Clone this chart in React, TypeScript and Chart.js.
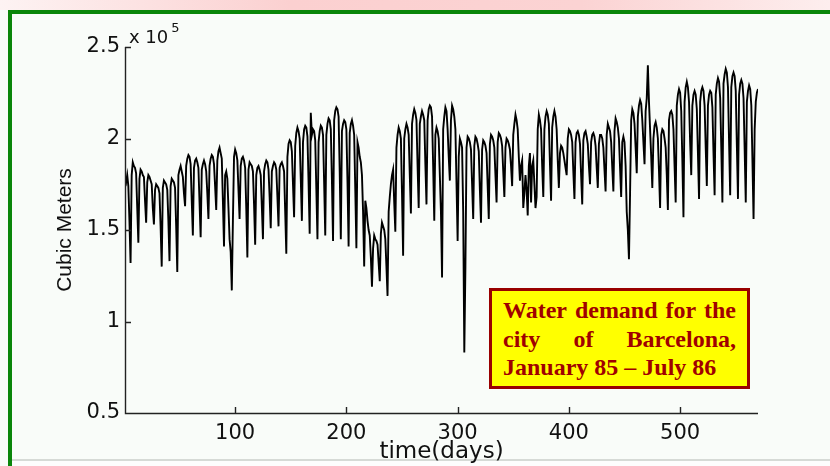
import React, { useEffect, useRef } from "react";
import { Chart, registerables } from "chart.js";

Chart.register(...registerables);

// Daily water demand (x 10^5 m3), rows are weeks Mon..Sun (first row starts Tue 1 Jan 1985)
const winter85: number[][] = [
  [1.78, 1.76, 1.8, 1.74, 1.55, 1.32],
  [1.8, 1.87, 1.85, 1.84, 1.81, 1.62, 1.43],
  [1.78, 1.83, 1.82, 1.8, 1.79, 1.66, 1.54],
  [1.76, 1.8, 1.79, 1.77, 1.75, 1.62, 1.53],
  [1.72, 1.75, 1.74, 1.73, 1.7, 1.52, 1.3],
  [1.73, 1.77, 1.76, 1.75, 1.72, 1.55, 1.33],
  [1.74, 1.78, 1.77, 1.76, 1.73, 1.52, 1.27],
  [1.8, 1.83, 1.85, 1.82, 1.79, 1.7, 1.63],
  [1.85, 1.89, 1.91, 1.9, 1.86, 1.66, 1.47],
  [1.84, 1.88, 1.89, 1.87, 1.84, 1.65, 1.46],
  [1.83, 1.86, 1.88, 1.86, 1.82, 1.7, 1.56],
  [1.85, 1.89, 1.91, 1.9, 1.86, 1.74, 1.61],
  [1.88, 1.93, 1.95, 1.92, 1.89, 1.66, 1.41],
];
const spring85: number[][] = [
  [1.8, 1.82, 1.78, 1.62, 1.45, 1.38, 1.17],
  [1.55, 1.9, 1.94, 1.92, 1.88, 1.72, 1.56],
  [1.85, 1.89, 1.9, 1.88, 1.84, 1.62, 1.35],
  [1.83, 1.87, 1.86, 1.85, 1.82, 1.64, 1.42],
  [1.8, 1.84, 1.85, 1.83, 1.8, 1.63, 1.45],
  [1.82, 1.86, 1.88, 1.87, 1.83, 1.68, 1.51],
  [1.82, 1.85, 1.87, 1.86, 1.83, 1.68, 1.52],
  [1.84, 1.86, 1.87, 1.85, 1.82, 1.6, 1.37],
  [1.9, 1.97, 1.99, 1.98, 1.93, 1.75, 1.57],
  [1.96, 2.03, 2.06, 2.04, 2.0, 1.78, 1.55],
  [1.98, 2.05, 2.07, 2.06, 2.01, 1.76, 1.48],
  [2.14, 2.02, 2.05, 2.04, 1.99, 1.72, 1.45],
  [1.98, 2.04, 2.07, 2.06, 2.02, 1.76, 1.47],
];
const summer85: number[][] = [
  [2.02, 2.08, 2.11, 2.1, 2.05, 1.77, 1.44],
  [2.1, 2.15, 2.17, 2.16, 2.12, 1.82, 1.45],
  [2.04, 2.08, 2.1, 2.09, 2.05, 1.76, 1.41],
  [2.03, 2.08, 2.1, 2.07, 2.02, 1.72, 1.4],
  [1.98, 1.95, 1.9, 1.87, 1.8, 1.6, 1.3],
  [1.66, 1.62, 1.55, 1.5, 1.47, 1.35, 1.19],
  [1.4, 1.47, 1.45, 1.44, 1.42, 1.32, 1.22],
  [1.48, 1.54, 1.52, 1.5, 1.45, 1.3, 1.14],
  [1.6, 1.68, 1.75, 1.8, 1.83, 1.65, 1.49],
  [1.95, 2.02, 2.06, 2.04, 2.0, 1.7, 1.36],
  [2.0, 2.05, 2.08, 2.06, 2.02, 1.8, 1.59],
  [2.08, 2.13, 2.16, 2.14, 2.1, 1.85, 1.62],
  [2.08, 2.12, 2.15, 2.13, 2.1, 1.86, 1.64],
];
const autumn85: number[][] = [
  [2.1, 2.16, 2.18, 2.17, 2.12, 1.85, 1.55],
  [2.02, 2.06, 2.04, 2.0, 1.8, 1.6, 1.24],
  [2.05, 2.12, 2.17, 2.15, 2.05, 1.9, 1.77],
  [2.1, 2.18, 2.16, 2.12, 2.05, 1.75, 1.44],
  [1.9, 2.0, 1.98, 1.95, 1.6, 0.83, 1.3],
  [1.95, 2.01, 2.0, 1.98, 1.94, 1.75, 1.56],
  [1.96, 2.01, 2.0, 1.97, 1.93, 1.72, 1.54],
  [1.94, 1.99, 1.98, 1.96, 1.92, 1.74, 1.56],
  [1.97, 2.02, 2.01, 1.99, 1.95, 1.8, 1.65],
  [1.98, 2.03, 2.02, 2.0, 1.96, 1.82, 1.68],
  [1.95, 2.0, 1.99, 1.97, 1.94, 1.85, 1.74],
  [2.02, 2.08, 2.13, 2.1, 2.05, 1.9, 1.77],
  [1.85, 1.88, 1.62, 1.7, 1.8, 1.72, 1.58],
];
const winter86: number[][] = [
  [1.85, 1.92, 1.65, 1.85, 1.88, 1.75, 1.62],
  [1.68, 2.05, 2.13, 2.1, 2.05, 1.85, 1.68],
  [2.05, 2.12, 2.15, 2.13, 2.08, 1.86, 1.66],
  [2.06, 2.12, 2.15, 2.12, 2.05, 1.88, 1.73],
  [1.92, 1.96, 1.95, 1.92, 1.88, 1.84, 1.8],
  [2.0, 2.05, 2.04, 2.02, 1.98, 1.82, 1.67],
  [1.98, 2.03, 2.04, 2.02, 1.97, 1.8, 1.64],
  [1.99, 2.03, 2.04, 2.01, 1.97, 1.85, 1.75],
  [1.98, 2.02, 2.03, 2.01, 1.96, 1.84, 1.73],
  [1.97, 2.02, 2.02, 2.0, 1.95, 1.83, 1.71],
  [2.02, 2.08, 2.06, 2.04, 1.98, 1.84, 1.71],
  [2.04, 2.11, 2.09, 2.06, 2.0, 1.84, 1.68],
  [1.98, 2.01, 1.98, 1.85, 1.6, 1.5, 1.34],
];
const springSummer86: number[][] = [
  [1.7, 2.1, 2.16, 2.14, 2.08, 1.95, 1.81],
  [2.12, 2.18, 2.21, 2.19, 2.1, 1.98, 1.86],
  [2.15, 2.22, 2.4, 2.2, 2.05, 1.9, 1.73],
  [2.0, 2.07, 2.09, 2.06, 2.0, 1.82, 1.62],
  [2.02, 2.05, 2.04, 2.0, 1.95, 1.8, 1.61],
  [2.1, 2.14, 2.15, 2.13, 2.05, 1.85, 1.65],
  [2.18, 2.24, 2.27, 2.25, 2.15, 1.88, 1.57],
  [2.2, 2.28, 2.31, 2.28, 2.2, 1.98, 1.8],
  [2.18, 2.24, 2.26, 2.24, 2.16, 1.92, 1.67],
  [2.2, 2.26, 2.28, 2.26, 2.18, 1.95, 1.74],
  [2.18, 2.24, 2.26, 2.25, 2.17, 1.92, 1.69],
  [2.24, 2.3, 2.33, 2.31, 2.22, 1.95, 1.65],
  [2.3, 2.35, 2.38, 2.36, 2.28, 1.98, 1.69],
  [2.28, 2.34, 2.36, 2.34, 2.26, 1.96, 1.67],
  [2.24, 2.3, 2.32, 2.3, 2.22, 1.94, 1.65],
  [2.2, 2.26, 2.29, 2.27, 2.18, 1.88, 1.56],
  [2.05, 2.2, 2.25, 2.27],
];

const demand: number[] = [
  ...winter85,
  ...spring85,
  ...summer85,
  ...autumn85,
  ...winter86,
  ...springSummer86,
].flat();
const days: number[] = demand.map((_, i) => i + 1);

const xTicks = [100, 200, 300, 400, 500];
const yTicks = [0.5, 1, 1.5, 2, 2.5];
const xMin = 1;
const xMax = 570;

const tickFont = { family: "'DejaVu Sans', sans-serif", size: 21 };
const axisColor = "#222222";

const matlabAxes = {
  id: "matlabAxes",
  afterDraw(chart: any) {
    const { ctx, chartArea: a, scales } = chart;
    const xs = scales.x;
    const ys = scales.y;
    ctx.save();
    ctx.strokeStyle = axisColor;
    ctx.lineWidth = 1.4;
    ctx.beginPath();
    ctx.moveTo(a.left + 0.5, a.top);
    ctx.lineTo(a.left + 0.5, a.bottom + 0.5);
    ctx.lineTo(a.right, a.bottom + 0.5);
    for (const t of xTicks) {
      const px = Math.round(xs.getPixelForValue(t)) + 0.5;
      ctx.moveTo(px, a.bottom);
      ctx.lineTo(px, a.bottom - 6);
    }
    for (const t of yTicks) {
      const py = Math.round(ys.getPixelForValue(t)) + 0.5;
      ctx.moveTo(a.left, py);
      ctx.lineTo(a.left + 6, py);
    }
    ctx.stroke();
    ctx.fillStyle = "#111111";
    ctx.textBaseline = "alphabetic";
    ctx.font = "18px 'DejaVu Sans', sans-serif";
    const base = "x 10";
    ctx.fillText(base, a.left + 4, a.top - 4);
    const w = ctx.measureText(base).width;
    ctx.font = "13px 'DejaVu Sans', sans-serif";
    ctx.fillText("5", a.left + 4 + w + 3, a.top - 15);
    ctx.restore();
  },
};

export default function App() {
  const canvasRef = useRef<HTMLCanvasElement | null>(null);

  useEffect(() => {
    if (!canvasRef.current) return;
    const chart = new Chart(canvasRef.current, {
      type: "line",
      data: {
        datasets: [
          {
            label: "Water demand",
            data: days.map((d, i) => ({ x: d, y: demand[i] })),
            borderColor: "#000000",
            borderWidth: 1.9,
            pointRadius: 0,
            tension: 0,
            fill: false,
          },
        ],
      },
      options: {
        responsive: false,
        animation: false,
        events: [],
        layout: { padding: { left: 49, right: 72, top: 47, bottom: 0 } },
        plugins: {
          legend: { display: false },
          tooltip: { enabled: false },
        },
        scales: {
          x: {
            type: "linear",
            min: xMin,
            max: xMax,
            border: { display: false },
            grid: { display: false, drawTicks: false },
            afterBuildTicks: (s: any) => {
              s.ticks = xTicks.map((v) => ({ value: v }));
            },
            afterFit: (s: any) => {
              s.height = 53;
            },
            ticks: {
              font: tickFont,
              color: "#111111",
              padding: 8,
              maxRotation: 0,
              autoSkip: false,
              callback: (v: any) => String(v),
            },
            title: {
              display: true,
              text: "time(days)",
              color: "#111111",
              font: { family: "'DejaVu Sans', sans-serif", size: 23 },
              padding: { top: 0, bottom: 0 },
            },
          },
          y: {
            type: "linear",
            min: 0.5,
            max: 2.5,
            border: { display: false },
            grid: { display: false, drawTicks: false },
            afterBuildTicks: (s: any) => {
              s.ticks = yTicks.map((v) => ({ value: v }));
            },
            afterFit: (s: any) => {
              s.width = 76;
            },
            ticks: {
              font: tickFont,
              color: "#111111",
              padding: 5,
              autoSkip: false,
              callback: (v: any) => String(v),
            },
            title: {
              display: true,
              text: "Cubic Meters",
              color: "#111111",
              font: { family: "'Liberation Sans', Arial, sans-serif", size: 21 },
              padding: { top: 4, bottom: 4 },
            },
          },
        },
      },
      plugins: [matlabAxes],
    });
    return () => chart.destroy();
  }, []);

  const serif = "'Liberation Serif', 'Times New Roman', serif";
  const lineStyle: React.CSSProperties = {
    display: "flex",
    justifyContent: "space-between",
    height: 28.5,
    lineHeight: "28.5px",
  };

  return (
    <div
      style={{
        position: "absolute",
        left: 0,
        top: 0,
        width: 830,
        height: 466,
        overflow: "hidden",
        background: "#f9fcf9",
      }}
    >
      <div
        style={{
          position: "absolute",
          left: 0,
          top: 0,
          width: 830,
          height: 10,
          background:
            "linear-gradient(to right, #fdf3f3 0%, #fbd0d0 35%, #fbd3d3 70%, #fdeeee 100%)",
        }}
      />
      <div style={{ position: "absolute", left: 8, top: 10, width: 822, height: 4, background: "#0a860a" }} />
      <div style={{ position: "absolute", left: 8, top: 10, width: 4, height: 456, background: "#0a860a" }} />
      <div style={{ position: "absolute", left: 12, top: 459, width: 818, height: 2, background: "#d6dad6" }} />
      <div style={{ position: "absolute", left: 12, top: 461, width: 818, height: 5, background: "#fdfdfd" }} />
      <canvas
        ref={canvasRef}
        width={830}
        height={466}
        style={{ position: "absolute", left: 0, top: 0, width: 830, height: 466 }}
      />
      <div
        style={{
          position: "absolute",
          left: 489,
          top: 288,
          width: 261,
          height: 101,
          boxSizing: "border-box",
          background: "#ffff00",
          border: "3px solid #990000",
          padding: "5px 11px 0 11px",
          fontFamily: serif,
          fontWeight: 700,
          fontSize: 24,
          color: "#a00000",
        }}
      >
        <div style={lineStyle}>
          <span>Water</span>
          <span>demand</span>
          <span>for</span>
          <span>the</span>
        </div>
        <div style={lineStyle}>
          <span>city</span>
          <span>of</span>
          <span>Barcelona,</span>
        </div>
        <div style={{ height: 28.5, lineHeight: "28.5px", whiteSpace: "nowrap" }}>
          January 85 – July 86
        </div>
      </div>
    </div>
  );
}
